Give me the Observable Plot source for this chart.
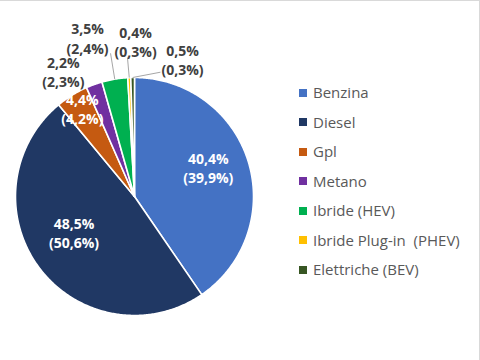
<!DOCTYPE html>
<html><head><meta charset="utf-8">
<script src="https://cdn.jsdelivr.net/npm/d3@7"></script>
<script src="https://cdn.jsdelivr.net/npm/@observablehq/plot@0.6"></script>
<style>
html,body{margin:0;padding:0;background:#fff;}
#chart{position:relative;width:480px;height:360px;overflow:hidden;font-family:"Open Sans",sans-serif;background:#fff;}
#chart svg{position:absolute;left:0;top:0;}
#border{position:absolute;left:0;top:0;width:480px;height:360px;box-sizing:border-box;border-top:1px solid #d9d9d9;border-right:1px solid #d9d9d9;pointer-events:none;}
#legend{position:absolute;left:299px;top:78px;}
.item{display:flex;align-items:center;height:29.5px;font-size:15px;color:#595959;white-space:pre;line-height:1;}
.sw{width:8px;height:8px;margin-right:6px;flex:none;}
</style></head><body>
<div id="chart"><div id="legend"></div><div id="border"></div></div>
<script>
// ---- data ----
const categories = ["Benzina", "Diesel", "Gpl", "Metano", "Ibride (HEV)", "Ibride Plug-in  (PHEV)", "Elettriche (BEV)"];
const shares = [40.4, 48.5, 4.4, 2.2, 3.5, 0.4, 0.5];
const prevShares = [39.9, 50.6, 4.2, 2.3, 2.4, 0.3, 0.3];
const colors = ["#4472C4", "#203864", "#C55A11", "#7030A0", "#00B050", "#FFC000", "#375623"];

// ---- layout (label placement in polar terms: degrees clockwise from top, radius in pie radii) ----
const labelAngle = [68.8, 239.5, 329.4, 330.4, 343.5, 0.4, 19.3];
const labelRadius = [0.665, 0.59, 0.86, 1.21, 1.39, 1.30, 1.22];
const labelInside = [true, true, true, false, false, false, false];
const leaderEnd = [null, null, null, null, [350.5, 1.22], [357.1, 1.17], [11.8, 1.067]];
const cx = 134, cy = 196, R = 119;

const total = d3.sum(shares);
const rad = a => a * Math.PI / 180;
const polar = (a, r) => ({x: r * Math.sin(a), y: r * Math.cos(a)});

const slicePts = [];
const mids = [];
let cum = 0;
shares.forEach((v, i) => {
  const a0 = cum / total * 2 * Math.PI;
  cum += v;
  const a1 = cum / total * 2 * Math.PI;
  mids.push((a0 + a1) / 2);
  const n = Math.max(2, Math.ceil((a1 - a0) / 0.01));
  slicePts.push({cat: categories[i], x: 0, y: 0});
  for (let k = 0; k <= n; k++) {
    const a = a0 + (a1 - a0) * k / n;
    slicePts.push({cat: categories[i], ...polar(a, 1)});
  }
  slicePts.push({cat: categories[i], x: 0, y: 0});
});

const fmt = v => v.toFixed(1).replace(".", ",");
const labels = categories.map((c, i) => ({
  cat: c,
  inside: labelInside[i],
  text: `${fmt(shares[i])}%\n(${fmt(prevShares[i])}%)`,
  ...polar(rad(labelAngle[i]), labelRadius[i])
}));

const leaders = [];
leaderEnd.forEach((e, i) => {
  if (!e) return;
  const s = polar(mids[i], 1.0);
  const t = polar(rad(e[0]), e[1]);
  leaders.push({x1: s.x, y1: s.y, x2: t.x, y2: t.y});
});

const plot = Plot.plot({
  width: 480,
  height: 360,
  margin: 0,
  style: {background: "transparent", fontFamily: "'Open Sans', sans-serif"},
  x: {domain: [-1, 1], range: [cx - R, cx + R], axis: null},
  y: {domain: [-1, 1], range: [cy + R, cy - R], axis: null},
  color: {domain: categories, range: colors},
  marks: [
    Plot.line(slicePts, {x: "x", y: "y", z: "cat", fill: "cat", stroke: "white", strokeWidth: 1.6, strokeLinejoin: "round", curve: "linear"}),
    Plot.link(leaders, {x1: "x1", y1: "y1", x2: "x2", y2: "y2", stroke: "#a6a6a6", strokeWidth: 1}),
    Plot.text(labels.filter(d => d.inside), {x: "x", y: "y", text: "text", fill: "white", fontWeight: "bold", fontSize: 14, lineHeight: 1.36, lineAnchor: "middle"}),
    Plot.text(labels.filter(d => !d.inside), {x: "x", y: "y", text: "text", fill: "#404040", fontWeight: "bold", fontSize: 14, lineHeight: 1.36, lineAnchor: "middle"})
  ]
});
document.getElementById("chart").insertBefore(plot, document.getElementById("legend"));

const legend = d3.select("#legend");
categories.forEach((c, i) => {
  const it = legend.append("div").attr("class", "item");
  it.append("div").attr("class", "sw").style("background", colors[i]);
  it.append("span").text(c);
});
</script>
</body></html>
